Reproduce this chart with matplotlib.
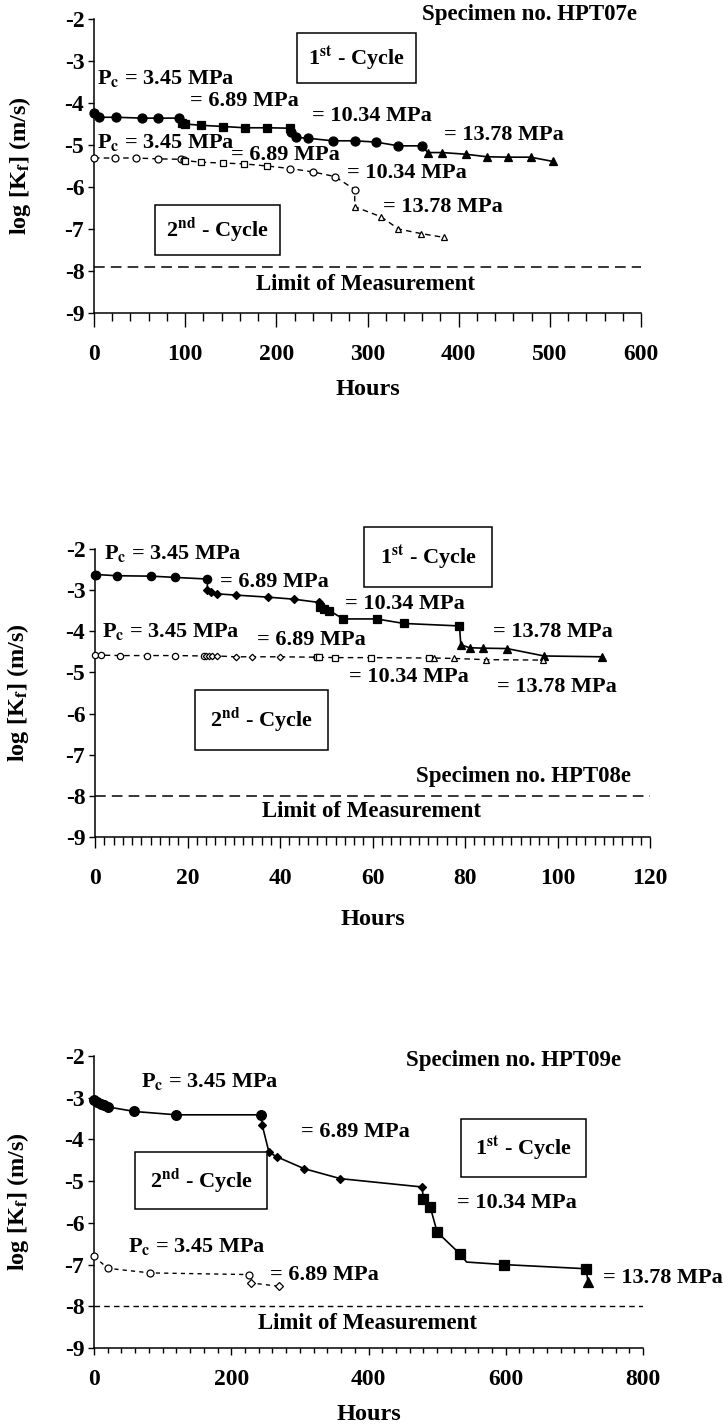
import numpy as np
import matplotlib
matplotlib.use("Agg")
import matplotlib.pyplot as plt
from matplotlib.ticker import MultipleLocator

plt.rcParams['font.family'] = ['Liberation Serif', 'DejaVu Serif']
plt.rcParams['font.weight'] = 'bold'
plt.rcParams['mathtext.fontset'] = 'stix'
plt.rcParams['axes.unicode_minus'] = False

# ---- HPT07e ----
h07_c1_345_h = [0, 6, 24, 53, 70, 93]
h07_c1_345_k = [-4.24, -4.34, -4.34, -4.36, -4.36, -4.36]
h07_c1_689_h = [97, 100, 117, 142, 166, 190, 215]
h07_c1_689_k = [-4.47, -4.50, -4.53, -4.56, -4.59, -4.59, -4.60]
h07_c1_1034_h = [216, 222, 235, 262, 286, 309, 334, 360]
h07_c1_1034_k = [-4.70, -4.82, -4.84, -4.90, -4.90, -4.93, -5.02, -5.02]
h07_c1_1378_h = [366, 382, 408, 431, 454, 479, 503]
h07_c1_1378_k = [-5.18, -5.18, -5.22, -5.28, -5.29, -5.29, -5.39]
h07_c2_345_h = [0, 23, 46, 70, 95, 99]
h07_c2_345_k = [-5.31, -5.31, -5.31, -5.33, -5.34, -5.36]
h07_c2_689_h = [100, 117, 142, 165, 190]
h07_c2_689_k = [-5.37, -5.41, -5.43, -5.45, -5.50]
h07_c2_1034_h = [215, 240, 264, 286]
h07_c2_1034_k = [-5.56, -5.64, -5.75, -6.06]
h07_c2_1378_h = [286, 315, 334, 359, 384]
h07_c2_1378_k = [-6.47, -6.71, -7.00, -7.11, -7.20]
h07_limit = -7.9

# ---- HPT08e ----
h08_c1_345_h = [0, 0.3, 4.7, 12.2, 17.2, 24.3]
h08_c1_345_k = [-2.62, -2.62, -2.65, -2.66, -2.69, -2.73]
h08_c1_689_h = [24.3, 25.1, 26.4, 30.4, 37.4, 43.0, 48.5]
h08_c1_689_k = [-3.00, -3.04, -3.09, -3.12, -3.17, -3.22, -3.30]
h08_c1_1034_h = [48.7, 49.5, 50.7, 53.7, 60.9, 66.8, 78.8]
h08_c1_1034_k = [-3.40, -3.47, -3.50, -3.70, -3.70, -3.81, -3.87]
h08_c1_1378_h = [79.1, 81.0, 83.8, 89.1, 97.1, 109.6]
h08_c1_1378_k = [-4.33, -4.40, -4.41, -4.42, -4.60, -4.62]
h08_c2_345_h = [0, 1.3, 5.3, 11.2, 17.2, 23.6]
h08_c2_345_k = [-4.58, -4.58, -4.59, -4.59, -4.59, -4.60]
h08_c2_689_h = [23.9, 24.6, 25.4, 26.4, 30.4, 33.9, 40.0, 47.7]
h08_c2_689_k = [-4.60, -4.60, -4.60, -4.60, -4.62, -4.62, -4.62, -4.63]
h08_c2_1034_h = [48.1, 48.5, 51.9, 59.7, 72.3]
h08_c2_1034_k = [-4.63, -4.63, -4.64, -4.64, -4.65]
h08_c2_1378_h = [73.3, 77.6, 84.6, 96.9]
h08_c2_1378_k = [-4.65, -4.66, -4.69, -4.70]
h08_limit = -8.0

# ---- HPT09e ----
h09_c1_345_h = [0, 4.7, 10, 15, 20, 59, 120, 243]
h09_c1_345_k = [-3.06, -3.10, -3.14, -3.17, -3.22, -3.33, -3.41, -3.41]
h09_c1_689_h = [245, 255, 267, 306, 359, 478]
h09_c1_689_k = [-3.65, -4.31, -4.42, -4.70, -4.94, -5.14]
h09_c1_1034_h = [480, 490, 500, 533, 543, 597, 717]
h09_c1_1034_k = [-5.42, -5.62, -6.22, -6.74, -6.94, -7.00, -7.10]
h09_c1_1034_marked = [0, 1, 2, 3, 5, 6]   # the 543 h vertex has no marker
h09_c1_1378_h = [720]
h09_c1_1378_k = [-7.42]
h09_c2_345_h = [0, 20, 82, 226]
h09_c2_345_k = [-6.80, -7.09, -7.20, -7.24]
h09_c2_689_h = [229, 269]
h09_c2_689_k = [-7.44, -7.52]
h09_limit = -8.0

FS = 16      # annotations
TFS = 17     # tick labels
LFS = 17.5   # axis labels
W, H = 724, 1427
fig = plt.figure(figsize=(W / 100, H / 100), dpi=100)


def make_axes(l, r, t, b):
    return fig.add_axes([l / W, 1 - b / H, (r - l) / W, (b - t) / H])


def draw_cycle(ax, segs, filled, lw, dashes=None):
    xs = np.concatenate([np.asarray(s[0], float) for s in segs])
    ys = np.concatenate([np.asarray(s[1], float) for s in segs])
    ln, = ax.plot(xs, ys, color='k', lw=lw, zorder=2, clip_on=False)
    if dashes:
        ln.set_dashes(dashes)
    for s in segs:
        x, y, m, ms = s[:4]
        idx = s[4] if len(s) > 4 else slice(None)
        x = np.asarray(x, float)[idx]
        y = np.asarray(y, float)[idx]
        ax.plot(x, y, ls='none', marker=m, ms=ms, mec='k', mew=0.9,
                mfc='k' if filled else 'white', zorder=3, clip_on=False)


def style(ax, xmax, major, minor, maj_len, min_len, xpad, ylab_x, xlab_y):
    ax.set_xlim(0, xmax)
    ax.set_ylim(-9, -2)
    ax.spines['top'].set_visible(False)
    ax.spines['right'].set_visible(False)
    for s in ('left', 'bottom'):
        ax.spines[s].set_linewidth(1.1)
    ax.xaxis.set_major_locator(MultipleLocator(major))
    ax.xaxis.set_minor_locator(MultipleLocator(minor))
    ax.yaxis.set_major_locator(MultipleLocator(1))
    ax.tick_params(axis='x', which='major', direction='out', length=maj_len,
                   width=1, pad=xpad, labelsize=TFS)
    ax.tick_params(axis='x', which='minor', direction='out', length=min_len, width=1)
    ax.tick_params(axis='y', direction='out', length=4, width=1, pad=3,
                   labelsize=TFS)
    for lab in ax.get_xticklabels() + ax.get_yticklabels():
        lab.set_fontweight('bold')
    ax.set_xlabel('Hours', fontsize=LFS, fontweight='bold', va='top')
    ax.xaxis.set_label_coords(0.5, xlab_y)
    ax.set_ylabel(r'log [K$_{\mathbf{f}}$] (m/s)', fontsize=LFS, fontweight='bold')
    ax.yaxis.set_label_coords(ylab_x, 0.5)


def txt(ax, x, y, s, ha='left', fs=FS):
    ax.text(x, y, s, fontsize=fs, fontweight='bold', ha=ha, va='center', zorder=4)


def boxed(ax, x, y, s, pad):
    ax.text(x, y, s, fontsize=FS, fontweight='bold', ha='center', va='center',
            zorder=4, bbox=dict(boxstyle='square,pad=%s' % pad, fc='white',
                                ec='k', lw=1.1))


PC = r'P$_{\mathbf{c}}$ = 3.45 MPa'
C1 = r'1$^{\mathbf{st}}$ - Cycle'
C2 = r'2$^{\mathbf{nd}}$ - Cycle'
SFS = 16.5

# ================= panel 1 =================
ax1 = make_axes(94, 641, 19, 313)
draw_cycle(ax1, [(h07_c1_345_h, h07_c1_345_k, 'o', 6.5),
                 (h07_c1_689_h, h07_c1_689_k, 's', 5.8),
                 (h07_c1_1034_h, h07_c1_1034_k, 'o', 6.5),
                 (h07_c1_1378_h, h07_c1_1378_k, '^', 6.2)], True, 1.2)
draw_cycle(ax1, [(h07_c2_345_h, h07_c2_345_k, 'o', 5),
                 (h07_c2_689_h, h07_c2_689_k, 's', 4.6),
                 (h07_c2_1034_h, h07_c2_1034_k, 'o', 5),
                 (h07_c2_1378_h, h07_c2_1378_k, '^', 5)], False, 1.0, (4, 3))
ax1.axhline(h07_limit, color='k', lw=1.1, dashes=(7, 4))
style(ax1, 600, 100, 20, 10, 6, 12, -0.112, -0.224)
txt(ax1, 596, -1.9, 'Specimen no. HPT07e', ha='right', fs=SFS)
boxed(ax1, 288, -2.93, C1, 0.5)
txt(ax1, 3.5, -3.42, PC)
txt(ax1, 105, -3.96, '= 6.89 MPa')
txt(ax1, 239, -4.32, '= 10.34 MPa')
txt(ax1, 384, -4.76, '= 13.78 MPa')
txt(ax1, 3.5, -4.94, PC)
txt(ax1, 150, -5.24, '= 6.89 MPa')
txt(ax1, 277, -5.66, '= 10.34 MPa')
txt(ax1, 317, -6.47, '= 13.78 MPa')
boxed(ax1, 135, -7.03, C2, 0.5)
txt(ax1, 298, -8.32, 'Limit of Measurement', ha='center', fs=SFS)

# ================= panel 2 =================
ax2 = make_axes(95, 650, 549, 837)
draw_cycle(ax2, [(h08_c1_345_h, h08_c1_345_k, 'o', 6),
                 (h08_c1_689_h, h08_c1_689_k, 'D', 3.8),
                 (h08_c1_1034_h, h08_c1_1034_k, 's', 5.2),
                 (h08_c1_1378_h, h08_c1_1378_k, '^', 5.8)], True, 1.2)
draw_cycle(ax2, [(h08_c2_345_h, h08_c2_345_k, 'o', 4.5),
                 (h08_c2_689_h, h08_c2_689_k, 'D', 3.3),
                 (h08_c2_1034_h, h08_c2_1034_k, 's', 4.3),
                 (h08_c2_1378_h, h08_c2_1378_k, '^', 4.5)], False, 1.0, (4, 3))
ax2.axhline(h08_limit, color='k', lw=1.1, dashes=(7, 4))
style(ax2, 120, 20, 2, 8, 6, 14, -0.115, -0.25)
txt(ax2, 2, -2.12, PC)
boxed(ax2, 72, -2.2, C1, 0.7)
txt(ax2, 27, -2.79, '= 6.89 MPa')
txt(ax2, 54, -3.34, '= 10.34 MPa')
txt(ax2, 86, -4.01, '= 13.78 MPa')
txt(ax2, 1.5, -4.01, PC)
txt(ax2, 35, -4.21, '= 6.89 MPa')
txt(ax2, 55, -5.1, '= 10.34 MPa')
txt(ax2, 87, -5.35, '= 13.78 MPa')
boxed(ax2, 36, -6.16, C2, 0.7)
txt(ax2, 69.5, -7.54, 'Specimen no. HPT08e', fs=SFS)
txt(ax2, 59.7, -8.37, 'Limit of Measurement', ha='center', fs=SFS)

# ================= panel 3 =================
ax3 = make_axes(94, 643, 1056, 1348)
draw_cycle(ax3, [(h09_c1_345_h, h09_c1_345_k, 'o', 7),
                 (h09_c1_689_h, h09_c1_689_k, 'D', 4.5),
                 (h09_c1_1034_h, h09_c1_1034_k, 's', 6.5, h09_c1_1034_marked),
                 (h09_c1_1378_h, h09_c1_1378_k, '^', 7)], True, 1.2)
draw_cycle(ax3, [(h09_c2_345_h, h09_c2_345_k, 'o', 5),
                 (h09_c2_689_h, h09_c2_689_k, 'D', 3.8)], False, 1.0, (3, 3))
ax3.axhline(h09_limit, color='k', lw=1.0, dashes=(4, 3))
style(ax3, 800, 200, 20, 5, 3.5, 10, -0.115, -0.192)
txt(ax3, 455, -2.1, 'Specimen no. HPT09e', fs=SFS)
txt(ax3, 69, -2.62, PC)
txt(ax3, 302, -3.82, '= 6.89 MPa')
boxed(ax3, 626, -4.21, C1, 0.65)
boxed(ax3, 156, -4.99, C2, 0.65)
txt(ax3, 529, -5.52, '= 10.34 MPa')
txt(ax3, 49, -6.56, PC)
txt(ax3, 256, -7.26, '= 6.89 MPa')
txt(ax3, 742, -7.32, '= 13.78 MPa')
txt(ax3, 399, -8.42, 'Limit of Measurement', ha='center', fs=SFS)

fig.savefig('out.png', dpi=100)
